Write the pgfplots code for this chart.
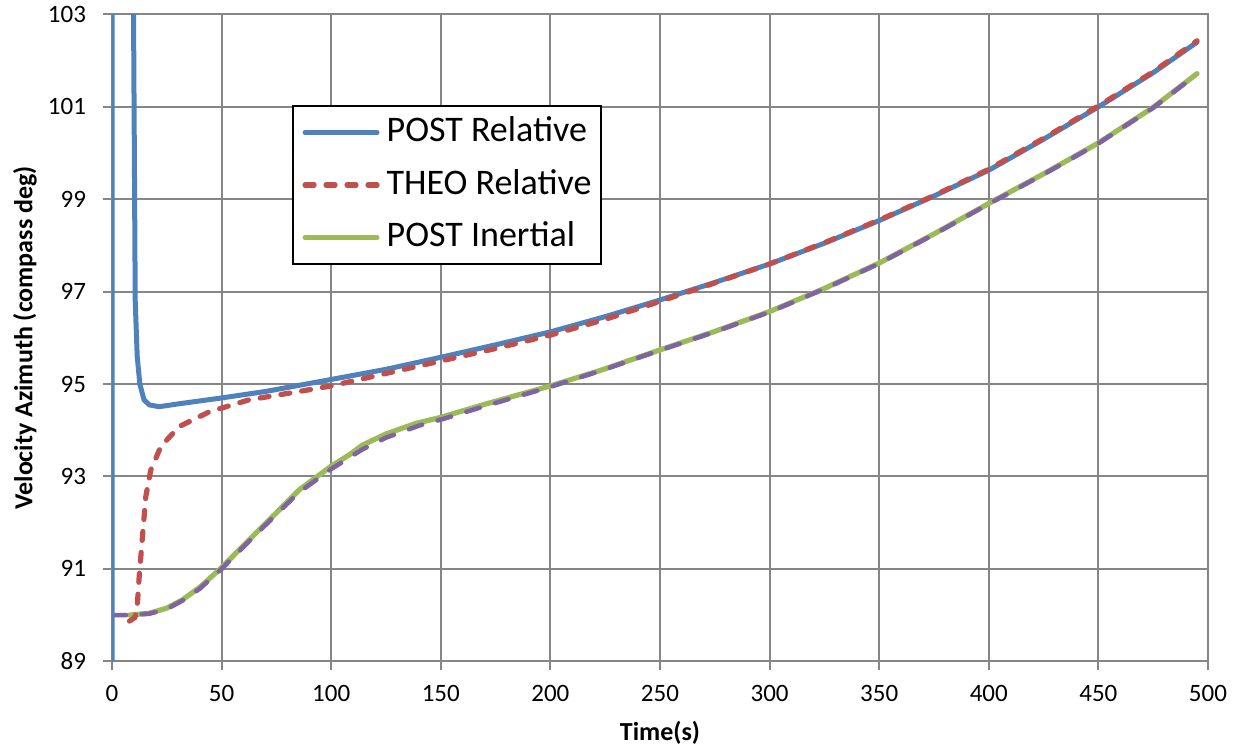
\documentclass[border=0pt]{standalone}
\usepackage{pgfplots}
\pgfplotsset{compat=1.18}
\usepackage{fontspec}
\setmainfont{Carlito}
\definecolor{cblue}{HTML}{4F81BD}
\definecolor{cred}{HTML}{C0504D}
\definecolor{cgreen}{HTML}{9BBB59}
\definecolor{cpurple}{HTML}{8064A2}
\definecolor{cgrid}{HTML}{868686}
\pgfplotsset{legend image code/.code={\draw[#1] (0pt,0pt) -- (36pt,0pt);}}
\begin{document}
\begin{tikzpicture}
\path[use as bounding box] (-56pt,-43.35pt) rectangle (563.5pt,330.65pt);
\begin{axis}[
  at={(0,0)}, anchor=south west,
  scale only axis, width=548pt, height=323.4pt,
  xmin=0, xmax=500, ymin=89, ymax=103,
  xtick={0,50,...,500}, ytick={89,91,...,103},
  grid=major, grid style={color=cgrid, line width=1pt},
  axis line style={cgrid, line width=1pt},
  tick style={cgrid, line width=1pt},
  tick align=outside, major tick length=4.5pt, tick pos=left,
  ticklabel style={font=\fontsize{12.5}{14}\selectfont},
  xticklabel style={yshift=-4pt},
  yticklabel style={xshift=-5pt},
  /pgf/number format/assume math mode=true,
  xlabel={Time(s)}, ylabel={Velocity Azimuth (compass deg)},
  label style={font=\fontsize{13}{15}\selectfont\bfseries},
  xlabel style={at={(axis description cs:0.5,-0.1113)}, anchor=center},
  ylabel style={at={(axis description cs:-0.0794,0.5)}, anchor=center},
  legend style={at={(axis description cs:0.1642,0.860)}, anchor=north west,
    draw=black, line width=1pt, font=\fontsize{18}{22}\selectfont,
    inner sep=4.75pt, row sep=9.25pt,
    nodes={text height=13pt, text depth=4pt, inner sep=0pt, outer sep=0pt}},
  legend cell align=left,
]
\addlegendimage{cblue, line width=2.5pt, line cap=round}
\addlegendentry{\hspace{3.5pt}POST Relative\hspace{4pt}}
\addlegendimage{cred, line width=2.6pt, line cap=round, dash pattern=on 4.5pt off 6pt}
\addlegendentry{\hspace{3.5pt}THEO Relative\hspace{4pt}}
\addlegendimage{cgreen, line width=2.5pt, line cap=round}
\addlegendentry{\hspace{3.5pt}POST Inertial\hspace{4pt}}

% POST Inertial
\addplot[forget plot, cgreen, line width=2.6pt, line join=round, line cap=round] coordinates {
(8,90.0) (17,90.04) (25,90.15) (32.1,90.33) (40,90.6) (49.6,91.01) (62.6,91.63)
(74.7,92.20) (85.4,92.71) (99.6,93.21) (108.3,93.47) (114.3,93.68) (125,93.92)
(138.7,94.15) (150,94.28) (170.6,94.57) (200,94.96) (222.4,95.29) (250,95.74)
(275,96.14) (300,96.57) (325,97.07) (350,97.62) (375,98.25) (400,98.91)
(425,99.55) (450,100.22) (475,100.99) (495,101.72)
};
% THEO Inertial
\addplot[forget plot, cpurple, line width=2.3pt, line join=round, line cap=round, dash pattern=on 7pt off 8pt] coordinates {
(0,90.0) (8,90.0) (17,90.03) (25,90.13) (32,90.31) (40,90.57) (49.6,90.98) (62.6,91.60)
(74.7,92.17) (85.4,92.66) (100,93.16) (114,93.58) (125,93.84) (140,94.10)
(150,94.23) (170.6,94.53) (200,94.94) (222.4,95.28) (250,95.73)
(275,96.13) (300,96.56) (325,97.06) (350,97.61) (375,98.24) (400,98.90)
(425,99.54) (450,100.21) (475,100.98) (495,101.71)
};
% POST Relative
\addplot[forget plot, cblue, line width=2.5pt, line join=round, line cap=round] coordinates {
(0,80) (0.05,130) (9.5,130) (9.8,103.2) (10.6,96.8) (11.5,95.6) (12.7,95.0)
(14.6,94.66) (17,94.55) (21.5,94.51) (30,94.57) (50,94.70) (70,94.84)
(85,94.97) (100,95.10) (125,95.32) (150,95.58) (175,95.85) (200,96.13)
(225,96.46) (250,96.82) (275,97.20) (300,97.60) (325,98.05) (350,98.54)
(375,99.07) (400,99.63) (425,100.30) (450,101.00) (475,101.74) (495,102.40)
};
% THEO Relative
\addplot[forget plot, cred, line width=2.6pt, line join=round, line cap=round, dash pattern=on 4.5pt off 6pt] coordinates {
(8,89.87) (10.5,89.95) (11.6,90.26) (12.4,90.83) (13.9,91.70) (15.4,92.56)
(17.7,93.14) (22.3,93.65) (30.6,94.08) (44.4,94.40) (62.6,94.66) (85.4,94.84)
(100,94.96) (125,95.23) (150,95.50) (175,95.77) (200,96.06) (225,96.40)
(250,96.79) (275,97.19) (300,97.60) (325,98.06) (350,98.55) (375,99.08)
(400,99.65) (425,100.32) (450,101.02) (475,101.76) (495,102.43)
};
\end{axis}
\end{tikzpicture}
\end{document}
